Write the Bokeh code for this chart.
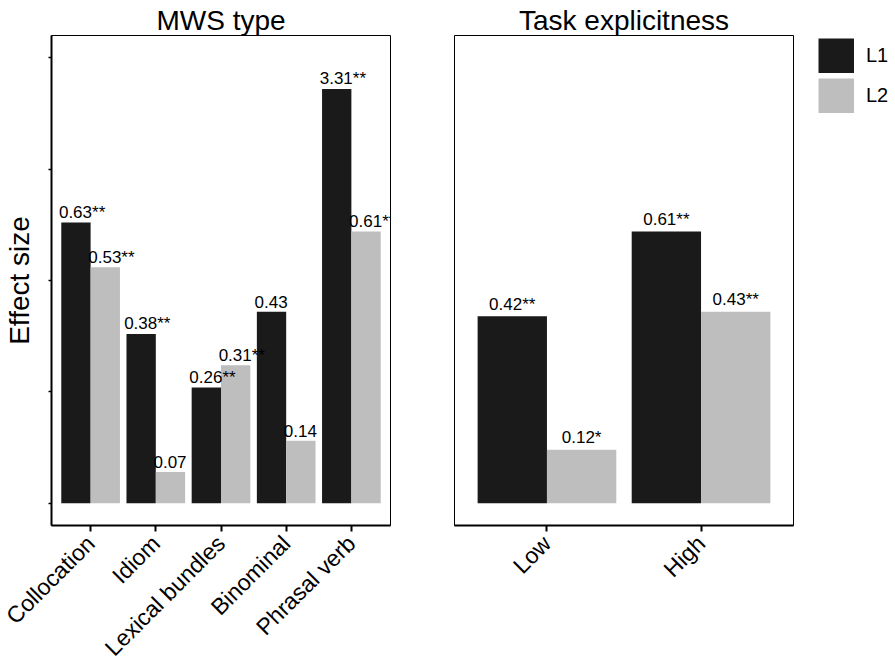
from bokeh.plotting import figure
from bokeh.models import (FactorRange, Range1d, ColumnDataSource, FixedTicker,
                          Legend, LegendItem, CustomJSTickFormatter)
from bokeh.transform import dodge
from bokeh.layouts import row
from bokeh.core.properties import value
from bokeh.embed import file_html
from bokeh.resources import INLINE
import math

# ---- data ----
mws_cats = ["Collocation", "Idiom", "Lexical bundles", "Binominal", "Phrasal verb"]
mws_l1 = [0.63, 0.38, 0.26, 0.43, 0.93]      # bar heights as drawn (Phrasal verb bar is truncated)
mws_l2 = [0.53, 0.07, 0.31, 0.14, 0.61]
mws_l1_lab = ["0.63**", "0.38**", "0.26**", "0.43", "3.31**"]
mws_l2_lab = ["0.53**", "0.07", "0.31**", "0.14", "0.61**"]

task_cats = ["Low", "High"]
task_l1 = [0.42, 0.61]
task_l2 = [0.12, 0.43]
task_l1_lab = ["0.42**", "0.61**"]
task_l2_lab = ["0.12*", "0.43**"]

y_ticks = [0, 0.25, 0.5, 0.75, 1.0]
series = ["L1", "L2"]

FONT = "Liberation Sans"
C1 = "#1a1a1a"
C2 = "#bebebe"
FRAME_W, FRAME_H = 339, 490
TOP, BOTTOM = 35, 134


def base_fig(title, cats, left_border, right_border, **kw):
    p = figure(x_range=FactorRange(*cats, range_padding=0.1, range_padding_units="absolute"),
               y_range=Range1d(-0.05, 1.05),
               frame_width=FRAME_W, frame_height=FRAME_H,
               min_border_left=left_border, min_border_right=right_border,
               min_border_top=TOP, min_border_bottom=BOTTOM,
               output_backend="svg", toolbar_location=None, title=title, **kw)
    p.title.align = "center"
    p.title.text_font = FONT
    p.title.text_font_size = "28px"
    p.title.text_font_style = "normal"
    p.title.text_color = "black"
    p.title.standoff = 0
    p.xgrid.visible = False
    p.ygrid.visible = False
    p.outline_line_color = "black"
    p.outline_line_width = 1
    p.background_fill_color = "white"
    p.border_fill_color = "white"
    xa = p.xaxis[0]
    xa.major_label_orientation = math.pi / 4
    xa.major_label_text_font = FONT
    xa.major_label_text_font_size = "23px"
    xa.major_label_text_color = "black"
    xa.major_label_standoff = 8
    xa.axis_line_width = 2
    xa.axis_line_color = "black"
    xa.major_tick_line_width = 2
    xa.major_tick_out = 6
    xa.major_tick_in = 0
    return p


def add_bars(p, cats, l1, l2, lab1, lab2, centered, yoff):
    src = ColumnDataSource(dict(cat=cats, l1=l1, l2=l2, lab1=lab1, lab2=lab2))
    r1 = p.vbar(x=dodge("cat", -0.225, range=p.x_range), top="l1", width=0.45,
                source=src, fill_color=C1, line_color=None)
    r2 = p.vbar(x=dodge("cat", 0.225, range=p.x_range), top="l2", width=0.45,
                source=src, fill_color=C2, line_color=None)
    common = dict(source=src, text_font=value(FONT), text_font_size=value("17px"),
                  text_color="black", text_baseline="alphabetic", y_offset=yoff)
    if centered:
        common.update(text_align="center")
    else:
        common.update(text_align="left", x_offset=-17)
    p.text(x=dodge("cat", -0.225, range=p.x_range), y="l1", text="lab1", **common)
    p.text(x=dodge("cat", 0.225, range=p.x_range), y="l2", text="lab2", **common)
    return r1, r2


# ---- left panel ----
p1 = base_fig("MWS type", mws_cats, 51, 40)
add_bars(p1, mws_cats, mws_l1, mws_l2, mws_l1_lab, mws_l2_lab, centered=False, yoff=-10)
ya = p1.yaxis[0]
ya.ticker = FixedTicker(ticks=y_ticks)
ya.formatter = CustomJSTickFormatter(code="return ''")
ya.axis_line_width = 2
ya.axis_line_color = "black"
ya.major_tick_line_width = 1.5
ya.major_tick_out = 3
ya.major_tick_in = 0
ya.minor_tick_out = 0
ya.minor_tick_in = 0
ya.major_label_standoff = 0
ya.axis_label = "Effect size"
ya.axis_label_text_font = FONT
ya.axis_label_text_font_size = "28px"
ya.axis_label_text_font_style = "normal"
ya.axis_label_text_color = "black"
ya.axis_label_standoff = 14

# ---- right panel ----
p2 = base_fig("Task explicitness", task_cats, 24, 100, y_axis_location=None)
add_bars(p2, task_cats, task_l1, task_l2, task_l1_lab, task_l2_lab, centered=True, yoff=-12)

# legend swatches: single-point line renderers (draw nothing in the plot) shown as thick bands
sw_src = ColumnDataSource(dict(x=task_cats[:1], y=[0]))
sw1 = p2.line(x="x", y="y", source=sw_src, line_color=C1, line_width=35, line_cap="butt")
sw2 = p2.line(x="x", y="y", source=sw_src, line_color=C2, line_width=35, line_cap="butt")

legend = Legend(items=[LegendItem(label=series[0], renderers=[sw1]),
                       LegendItem(label=series[1], renderers=[sw2])],
                location=(25, 412), margin=0, padding=0, spacing=5,
                glyph_width=36, glyph_height=35, label_standoff=12,
                label_text_font=FONT, label_text_font_size="20px", label_text_color="black",
                border_line_color=None, background_fill_alpha=0)
p2.add_layout(legend, "right")

layout = row(p1, p2)
open("out.html", "w").write(file_html(layout, INLINE))
